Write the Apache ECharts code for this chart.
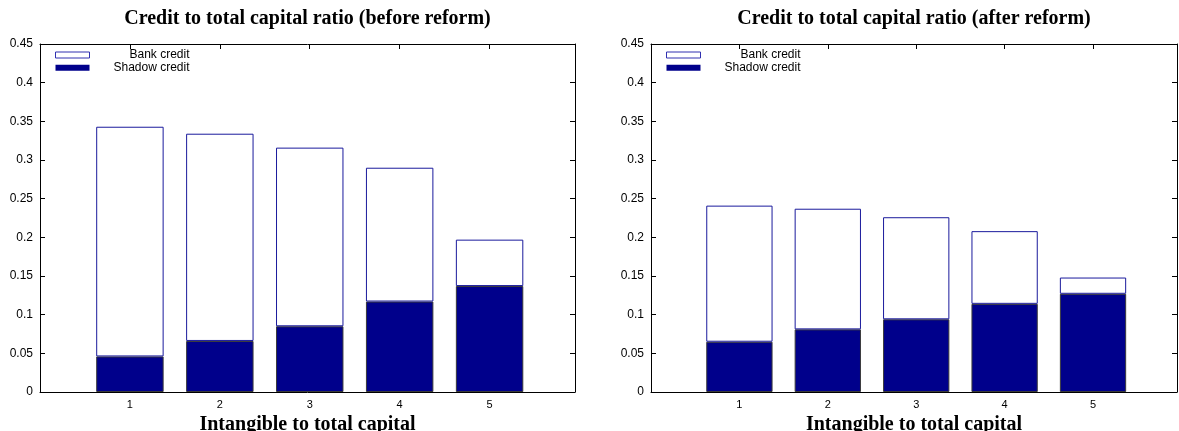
<!DOCTYPE html>
<html>
<head>
<meta charset="utf-8">
<script src="https://cdn.jsdelivr.net/npm/echarts@6/dist/echarts.min.js"></script>
<style>
  html, body { margin: 0; padding: 0; background: #fff; }
  #chart { width: 1179px; height: 431px; }
</style>
</head>
<body>
<div id="chart"></div>
<script>
// Intangible-to-total-capital groups
const groups = [1, 2, 3, 4, 5];

// Credit to total capital ratio, before reform (bank part stacked on shadow part)
const shadowBefore = [0.046, 0.066, 0.085, 0.117, 0.137];
const bankBefore   = [0.297, 0.268, 0.231, 0.173, 0.060];

// Credit to total capital ratio, after reform
const shadowAfter = [0.065, 0.081, 0.094, 0.114, 0.127];
const bankAfter   = [0.176, 0.156, 0.132, 0.094, 0.021];

const titles = [
  'Credit to total capital ratio (before reform)',
  'Credit to total capital ratio (after reform)'
];
const xTitle = 'Intangible to total capital';
const seriesNames = ['Bank credit', 'Shadow credit'];

const SANS = '"Liberation Sans", Arial, sans-serif';
const SERIF = '"Liberation Serif", "Times New Roman", serif';
const NAVY = '#00008b';
const BANK_EDGE = '#1a1a9c';

const grids = [
  { left: 40, right: 604, top: 44, bottom: 39, outerBoundsMode: 'none' },
  { left: 651, right: 2, top: 44, bottom: 39, outerBoundsMode: 'none' }
];
const X_MAX = 5.95;

// Value column first so the stack runs along the y dimension
function rows(vals) { return groups.map((g, i) => [vals[i], g]); }

const tick = { show: true, inside: true, length: 5, lineStyle: { color: '#000', width: 1 } };
const line = { show: true, onZero: false, lineStyle: { color: '#000', width: 1 } };

const xAxes = [], yAxes = [], series = [], legends = [], titleList = [];
grids.forEach((g, gi) => {
  // bottom axis with labels and name, top axis mirrors ticks
  xAxes.push({
    type: 'value', gridIndex: gi, position: 'bottom', min: 0, max: X_MAX, interval: 1,
    axisLine: line, axisTick: tick, splitLine: { show: false },
    axisLabel: {
      fontFamily: SANS, fontSize: 11, color: '#000', margin: 7, showMaxLabel: false,
      formatter: v => (v >= 1 && v <= 5) ? String(v) : ''
    },
    name: xTitle, nameLocation: 'middle', nameGap: 20,
    nameTextStyle: { fontFamily: SERIF, fontWeight: 'bold', fontSize: 20, color: '#000' }
  });
  xAxes.push({
    type: 'value', gridIndex: gi, position: 'top', min: 0, max: X_MAX, interval: 1,
    axisLine: line, axisTick: tick, splitLine: { show: false }, axisLabel: { show: false }
  });
  // left axis with labels, right axis mirrors ticks
  yAxes.push({
    type: 'value', gridIndex: gi, position: 'left', min: 0, max: 0.45, interval: 0.05,
    axisLine: line, axisTick: tick, splitLine: { show: false },
    axisLabel: { fontFamily: SANS, fontSize: 12, color: '#000', margin: 7 }
  });
  yAxes.push({
    type: 'value', gridIndex: gi, position: 'right', min: 0, max: 0.45, interval: 0.05,
    axisLine: line, axisTick: tick, splitLine: { show: false }, axisLabel: { show: false }
  });

  const shadow = gi === 0 ? shadowBefore : shadowAfter;
  const bank = gi === 0 ? bankBefore : bankAfter;
  series.push({
    type: 'bar', name: seriesNames[1], xAxisIndex: gi * 2, yAxisIndex: gi * 2,
    stack: 'credit' + gi, barWidth: '75%', data: rows(shadow), encode: { x: 1, y: 0 },
    itemStyle: { color: NAVY, borderColor: '#3a3a3a', borderWidth: 1 },
    emphasis: { disabled: true }
  });
  series.push({
    type: 'bar', name: seriesNames[0], xAxisIndex: gi * 2, yAxisIndex: gi * 2,
    stack: 'credit' + gi, barWidth: '75%', data: rows(bank), encode: { x: 1, y: 0 },
    itemStyle: { color: '#fff', borderColor: BANK_EDGE, borderWidth: 1 },
    emphasis: { disabled: true }
  });

  legends.push({
    data: [
      { name: seriesNames[0], itemStyle: { color: '#fff', borderColor: '#3030b0', borderWidth: 1 } },
      { name: seriesNames[1], itemStyle: { color: NAVY, borderWidth: 0 } }
    ],
    orient: 'vertical', left: g.left + 15, top: 49,
    icon: 'rect', itemWidth: 34, itemHeight: 6, itemGap: 0.7, padding: 0,
    selectedMode: false,
    formatter: n => '{r|' + n + '}',
    textStyle: {
      fontFamily: SANS, fontSize: 12, color: '#000',
      rich: { r: { width: 95, align: 'right', lineHeight: 12, fontFamily: SANS, fontSize: 12, color: '#000' } }
    }
  });

  const center = gi === 0 ? (40 + 575) / 2 : (651 + 1177) / 2;
  titleList.push({
    text: titles[gi], left: center, top: 9, textAlign: 'center', padding: 0,
    textStyle: { fontFamily: SERIF, fontWeight: 'bold', fontSize: 20, color: '#000' }
  });
});

const chart = echarts.init(document.getElementById('chart'), null, { renderer: 'canvas' });
chart.setOption({
  animation: false,
  backgroundColor: '#fff',
  title: titleList,
  legend: legends,
  grid: grids,
  xAxis: xAxes,
  yAxis: yAxes,
  series: series
});
</script>
</body>
</html>
